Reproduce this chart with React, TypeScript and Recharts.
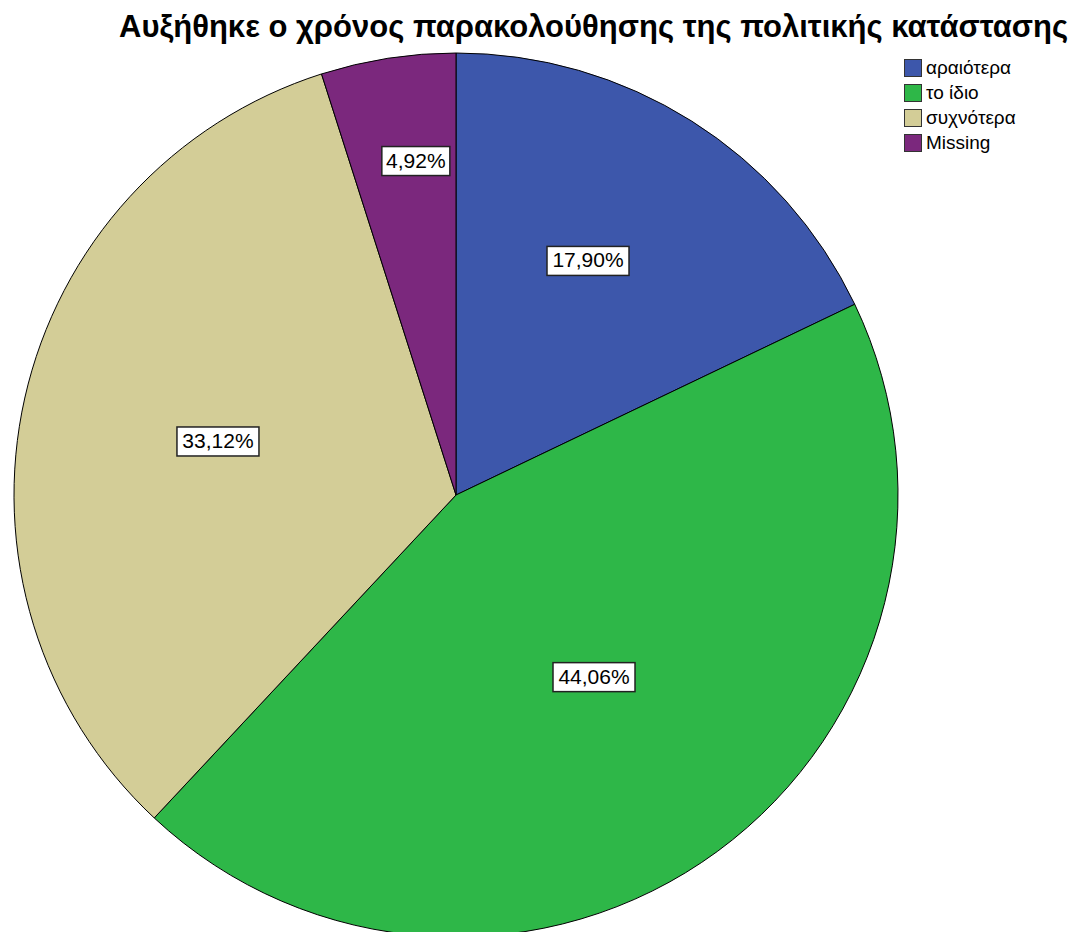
import { Cell, Pie, PieChart } from "recharts";

const categories = ["αραιότερα", "το ίδιο", "συχνότερα", "Missing"];
const percents = [17.9, 44.06, 33.12, 4.92];
const colors = ["#3D57AB", "#2EB748", "#D3CD97", "#7B287D"];

const title = "Αυξήθηκε ο χρόνος παρακολούθησης της πολιτικής κατάστασης";

const data = categories.map((name, i) => ({ name, value: percents[i] }));

// label placement: fraction of radius + small angle nudge (deg), as in the SPSS output
const labelPos: Record<string, [number, number]> = {
  "αραιότερα": [0.608, 2.8],
  "το ίδιο": [0.517, 0.9],
  "συχνότερα": [0.552, 0],
  Missing: [0.761, -2],
};

const RAD = Math.PI / 180;

function PctLabel(props: any) {
  const { cx, cy, midAngle, outerRadius, percent, name } = props;
  const [f, da] = labelPos[name] ?? [0.6, 0];
  const r = outerRadius * f;
  const a = (midAngle + da) * RAD;
  const x = cx + r * Math.cos(-a);
  const y = cy + r * Math.sin(-a);
  const txt = (percent * 100).toFixed(2).replace(".", ",") + "%";
  const w = txt.length === 5 ? 68 : 82;
  const h = 29;
  return (
    <g>
      <rect x={x - w / 2} y={y - h / 2} width={w} height={h} fill="#fff" stroke="#222" strokeWidth={1.5} />
      <text
        x={x}
        y={y + 1}
        textAnchor="middle"
        dominantBaseline="middle"
        fontFamily="Liberation Sans, Arial, sans-serif"
        fontSize={21}
        fill="#000"
      >
        {txt}
      </text>
    </g>
  );
}

export default function App() {
  return (
    <div style={{ position: "fixed", left: 0, top: 0, width: 1070, height: 932, background: "#fff" }}>
      <PieChart width={1070} height={932} margin={{ top: 0, right: 0, bottom: 0, left: 0 }}>
        <Pie
          data={data}
          dataKey="value"
          nameKey="name"
          cx={456}
          cy={495}
          outerRadius={442}
          startAngle={90}
          endAngle={-270}
          stroke="#000"
          strokeWidth={1}
          label={PctLabel}
          labelLine={false}
          isAnimationActive={false}
        >
          {data.map((d, i) => (
            <Cell key={d.name} fill={colors[i]} />
          ))}
        </Pie>
      </PieChart>
      <div
        style={{
          position: "absolute",
          left: 0,
          top: 9,
          width: 1070,
          paddingLeft: 119,
          boxSizing: "border-box",
          fontFamily: "Liberation Sans, Arial, sans-serif",
          fontWeight: "bold",
          fontSize: 31,
          color: "#000",
          whiteSpace: "nowrap",
        }}
      >
        {title}
      </div>
      <div style={{ position: "absolute", left: 904, top: 55, fontFamily: "Liberation Sans, Arial, sans-serif", fontSize: 19 }}>
        {categories.map((c, i) => (
          <div key={c} style={{ display: "flex", alignItems: "center", height: 25 }}>
            <span
              style={{
                width: 18,
                height: 18,
                background: colors[i],
                border: "1.5px solid #333",
                marginRight: 4,
                boxSizing: "border-box",
                display: "inline-block",
              }}
            />
            <span>{c}</span>
          </div>
        ))}
      </div>
    </div>
  );
}
